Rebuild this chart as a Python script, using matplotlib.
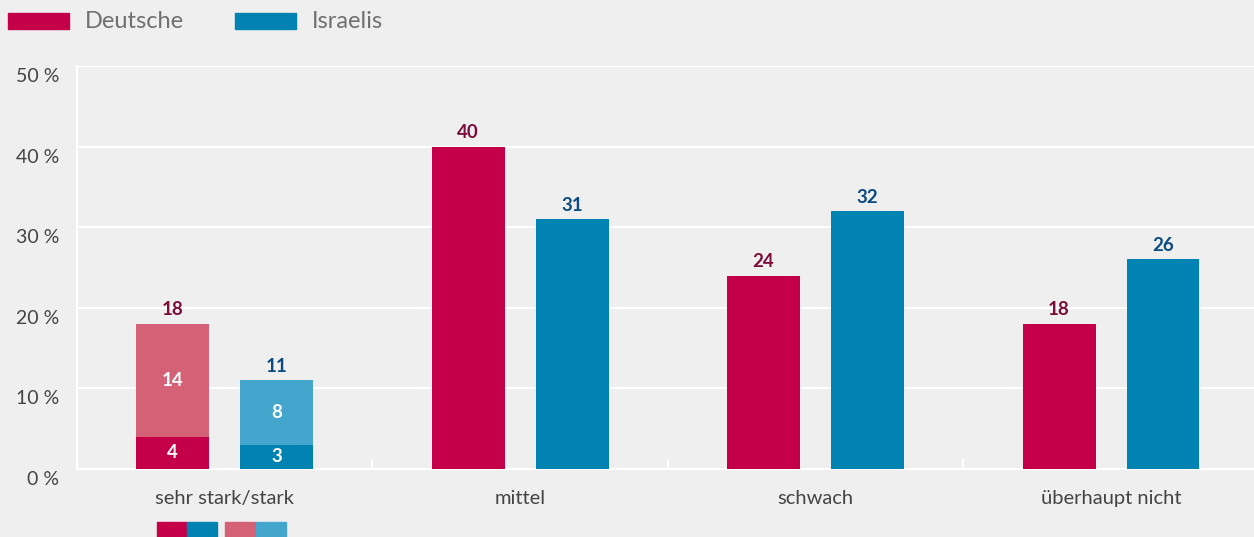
import matplotlib
matplotlib.use('Agg')
import matplotlib.pyplot as plt
import matplotlib.transforms as mtransforms
from matplotlib.patches import Rectangle
import numpy as np

# Data
categories = ['sehr stark/stark', 'mittel', 'schwach', 'überhaupt nicht']
deutsche = [18, 40, 24, 18]
israelis = [11, 31, 32, 26]
# split of the first group: "sehr stark" (bottom) + "stark" (top)
deutsche_split = [4, 14]
israelis_split = [3, 8]
yticks = [0, 10, 20, 30, 40, 50]

BG = '#efefef'
RED = '#c40048'
BLUE = '#0083b3'
RED_LIGHT = '#d46175'
BLUE_LIGHT = '#44a6cd'
RED_TXT = '#7a0d3a'
BLUE_TXT = '#0c4a80'
GRAY = '#444444'

plt.rcParams['font.family'] = ['Lato', 'DejaVu Sans']

fig = plt.figure(figsize=(12.54, 5.37), dpi=100, facecolor=BG)
ax = fig.add_axes([77 / 1254, 68 / 537, 1177 / 1254, 403 / 537])
ax.set_facecolor(BG)

x = np.arange(len(categories))
off = 0.176
w = 0.247

# Bars (first group is stacked)
ax.bar(x[1:] - off, deutsche[1:], w, color=RED, zorder=3)
ax.bar(x[1:] + off, israelis[1:], w, color=BLUE, zorder=3)
ax.bar(x[0] - off, deutsche_split[0], w, color=RED, zorder=3)
ax.bar(x[0] - off, deutsche_split[1], w, bottom=deutsche_split[0], color=RED_LIGHT, zorder=3)
ax.bar(x[0] + off, israelis_split[0], w, color=BLUE, zorder=3)
ax.bar(x[0] + off, israelis_split[1], w, bottom=israelis_split[0], color=BLUE_LIGHT, zorder=3)

# Value labels on top
for i in range(len(categories)):
    ax.annotate(str(deutsche[i]), (x[i] - off, deutsche[i]), xytext=(0, 4),
                textcoords='offset points', ha='center', va='bottom',
                fontsize=13.5, fontweight='bold', color=RED_TXT)
    ax.annotate(str(israelis[i]), (x[i] + off, israelis[i]), xytext=(0, 4),
                textcoords='offset points', ha='center', va='bottom',
                fontsize=13.5, fontweight='bold', color=BLUE_TXT)

# Labels inside the stacked segments
for xpos, parts in ((x[0] - off, deutsche_split), (x[0] + off, israelis_split)):
    bottom = 0
    for p in parts:
        ax.text(xpos, bottom + p / 2, str(p), ha='center', va='center',
                fontsize=13.5, fontweight='bold', color='white', zorder=4)
        bottom += p

# Axes styling
ax.set_xlim(-0.5, 3.484)
ax.set_ylim(0, 50)
ax.set_yticks(yticks)
ax.set_yticklabels(['%d %%' % v for v in yticks], fontsize=14, color=GRAY)
ax.tick_params(axis='y', length=0, pad=13)
shift = mtransforms.ScaledTranslation(0, -9 / 100, fig.dpi_scale_trans)
for lbl in ax.get_yticklabels():
    lbl.set_transform(lbl.get_transform() + shift)
ax.set_xticks(x)
ax.set_xticklabels(categories, fontsize=14.5, color=GRAY)
ax.tick_params(axis='x', which='major', length=0, pad=15)
ax.set_xticks([0.5, 1.5, 2.5], minor=True)
ax.tick_params(axis='x', which='minor', direction='in', length=7, width=1.5, color='white')
ax.grid(axis='y', color='white', linewidth=1.5, zorder=0)
for side in ('top', 'right'):
    ax.spines[side].set_visible(False)
for side in ('left', 'bottom'):
    ax.spines[side].set_color('white')
    ax.spines[side].set_linewidth(1.5)

# Top legend
fig.patches.append(Rectangle((8 / 1254, 1 - 29 / 537), 61 / 1254, 16 / 537,
                             transform=fig.transFigure, color=RED))
fig.text(85 / 1254, 1 - 21 / 537, 'Deutsche', fontsize=17,
         color='#707070', va='center')
fig.patches.append(Rectangle((235 / 1254, 1 - 29 / 537), 61 / 1254, 16 / 537,
                             transform=fig.transFigure, color=BLUE))
fig.text(312 / 1254, 1 - 21 / 537, 'Israelis', fontsize=17,
         color='#707070', va='center')

# Small swatches below the first group
for x0, c in ((157, RED), (187, BLUE), (225, RED_LIGHT), (256, BLUE_LIGHT)):
    fig.patches.append(Rectangle((x0 / 1254, 0), 30 / 1254, 15 / 537,
                                 transform=fig.transFigure, color=c))

fig.savefig('out.png', dpi=100, facecolor=BG)
plt.close(fig)
